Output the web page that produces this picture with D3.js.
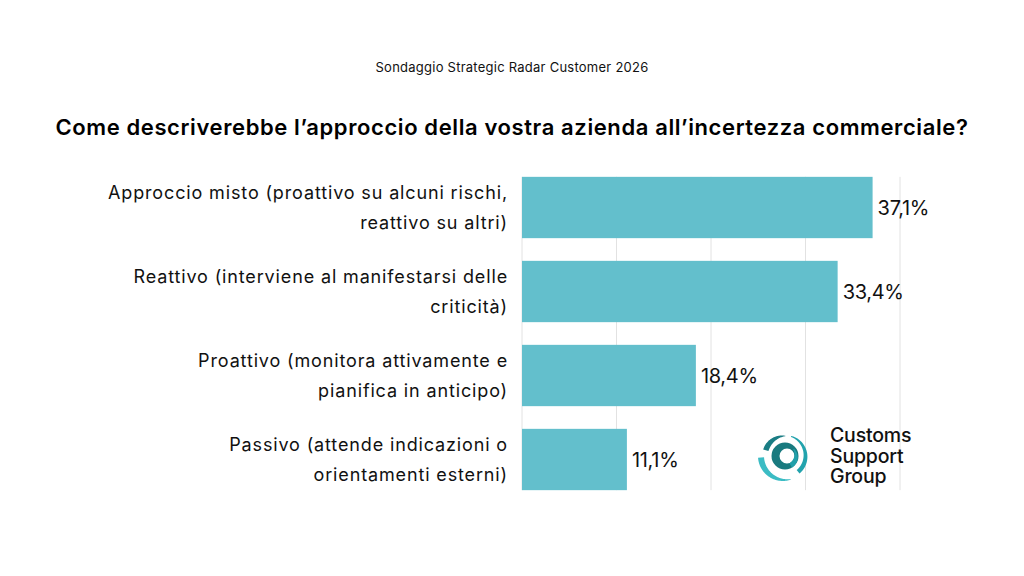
<!DOCTYPE html>
<html>
<head>
<meta charset="utf-8">
<script src="https://cdn.jsdelivr.net/npm/d3@7"></script>
<style>
  body { margin: 0; background: #fff; }
  svg { display: block; font-family: Inter, "Noto Sans", sans-serif; }
</style>
</head>
<body>
<svg id="chart"></svg>
<script>
const categories = [
  ['Approccio misto (proattivo su alcuni rischi,', 'reattivo su altri)'],
  ['Reattivo (interviene al manifestarsi delle', 'criticità)'],
  ['Proattivo (monitora attivamente e', 'pianifica in anticipo)'],
  ['Passivo (attende indicazioni o', 'orientamenti esterni)']
];
const values = [37.1, 33.4, 18.4, 11.1];
const gridTicks = [0, 10, 20, 30, 40];
const subtitle = 'Sondaggio Strategic Radar Customer 2026';
const title = 'Come descriverebbe l’approccio della vostra azienda all’incertezza commerciale?';
const logoLines = ['Customs', 'Support', 'Group'];

const width = 1024, height = 576;
const svg = d3.select('#chart').attr('width', width).attr('height', height);

const x = d3.scaleLinear().domain([0, 40]).range([522, 900]);
const y = d3.scaleBand().domain(d3.range(values.length)).range([165.5, 501.5])
  .paddingInner(0.27).paddingOuter(0.135);

// spread letters so a text reaches the wanted width
function spacingFor(node, target) {
  const len = node.getComputedTextLength();
  const n = node.textContent.length;
  return (target - len) / n;
}

// Header
const sub = svg.append('text')
  .attr('x', 512).attr('y', 72)
  .attr('text-anchor', 'middle')
  .attr('font-size', 13)
  .attr('fill', '#111')
  .text(subtitle);
sub.attr('letter-spacing', spacingFor(sub.node(), 273));

const ttl = svg.append('text')
  .attr('x', 512).attr('y', 135)
  .attr('text-anchor', 'middle')
  .attr('font-size', 22)
  .attr('font-weight', 600)
  .attr('fill', '#000')
  .text(title);
ttl.attr('letter-spacing', spacingFor(ttl.node(), 913));

// Gridlines
const gridTop = y(0), gridBottom = y(values.length - 1) + y.bandwidth();
svg.append('g')
  .selectAll('line')
  .data(gridTicks)
  .join('line')
  .attr('x1', d => x(d)).attr('x2', d => x(d))
  .attr('y1', gridTop).attr('y2', gridBottom)
  .attr('stroke', '#e2e2e2')
  .attr('stroke-width', 1);

// Bars
svg.append('g')
  .selectAll('rect')
  .data(values)
  .join('rect')
  .attr('x', x(0))
  .attr('y', (d, i) => y(i))
  .attr('width', d => x(d) - x(0))
  .attr('height', y.bandwidth())
  .attr('fill', '#63bfcc');

// Value labels
svg.append('g')
  .selectAll('text')
  .data(values)
  .join('text')
  .attr('x', d => x(d) + 5)
  .attr('y', (d, i) => y(i) + y.bandwidth() / 2)
  .attr('dy', '0.36em')
  .attr('font-size', 20)
  .attr('letter-spacing', -0.3)
  .attr('fill', '#111')
  .text(d => d.toFixed(1).replace('.', ',') + '%');

// Category labels
const labels = svg.append('g')
  .attr('font-size', 18)
  .attr('fill', '#111');

const labelText = labels.selectAll('text')
  .data(categories)
  .join('text')
  .attr('text-anchor', 'end');

labelText.selectAll('tspan')
  .data((d, i) => d.map((line, j) => ({ line, j, i })))
  .join('tspan')
  .attr('x', 508)
  .attr('y', d => y(d.i) + y.bandwidth() / 2 + (d.j === 0 ? -15 : 15))
  .attr('dy', '0.36em')
  .text(d => d.line);

const firstLine = labelText.select('tspan').node();
labels.attr('letter-spacing', spacingFor(firstLine, 400));

// Logo mark: an off-centre ring with tapered swooshes around it
const logo = svg.append('g').attr('transform', 'translate(785,456)');

function taper(r, a0, a1, w0, w1) {
  const steps = 40;
  const outer = [], inner = [];
  for (let k = 0; k <= steps; k++) {
    const t = k / steps;
    const a = a0 + (a1 - a0) * t;
    const w = w0 + (w1 - w0) * Math.sin(Math.PI * t / 2);
    outer.push([Math.sin(a) * (r + w / 2), -Math.cos(a) * (r + w / 2)]);
    inner.push([Math.sin(a) * (r - w / 2), -Math.cos(a) * (r - w / 2)]);
  }
  return d3.line()(outer.concat(inner.reverse())) + 'Z';
}

const ring = d3.path();
ring.arc(0, 0, 13.5, 0, 2 * Math.PI);
ring.moveTo(2 + 7.5, 0);
ring.arc(2, 0, 7.5, 0, 2 * Math.PI);
logo.append('path')
  .attr('d', ring.toString())
  .attr('fill-rule', 'evenodd')
  .attr('fill', '#197a7f');

const swirl = [
  { r: 11, a0: 0.9, a1: 2.6, w0: 1, w1: 5, color: '#21a0aa' },
  { r: 20, a0: 6.3, a1: 5.0, w0: 0.5, w1: 5.5, color: '#1a7d84' },
  { r: 20.5, a0: 0.3, a1: 2.45, w0: 1, w1: 4.5, color: '#22a3ad' },
  { r: 24, a0: 2.9, a1: 4.65, w0: 0.5, w1: 6, color: '#3bbcc4' }
];
logo.selectAll('path.swoosh')
  .data(swirl)
  .join('path')
  .attr('class', 'swoosh')
  .attr('d', d => taper(d.r, d.a0, d.a1, d.w0, d.w1))
  .attr('fill', d => d.color);

svg.append('g')
  .selectAll('text')
  .data(logoLines)
  .join('text')
  .attr('x', 830)
  .attr('y', (d, i) => 442 + i * 20.5)
  .attr('font-size', 19.5)
  .attr('font-weight', 500)
  .attr('letter-spacing', -0.2)
  .attr('fill', '#111')
  .text(d => d);
</script>
</body>
</html>
